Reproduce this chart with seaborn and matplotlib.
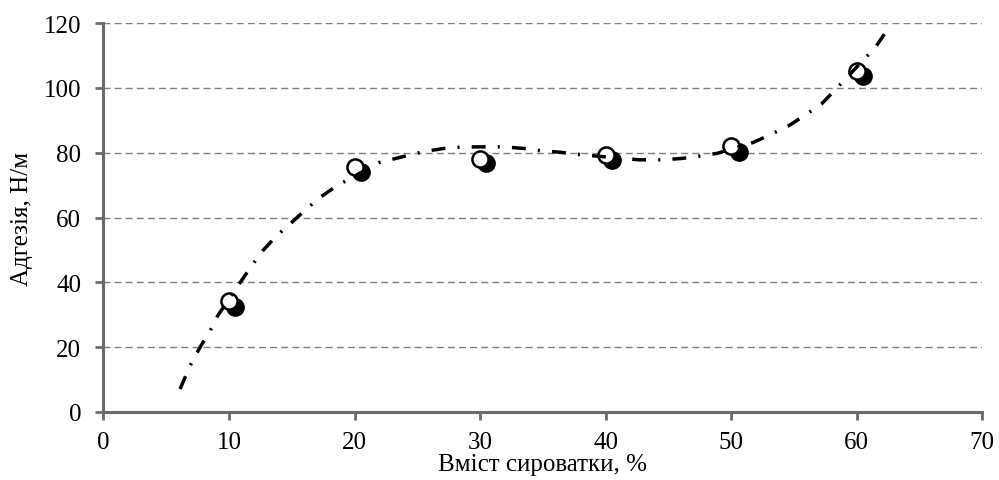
import matplotlib
matplotlib.use("Agg")
import matplotlib.pyplot as plt
import seaborn as sns
import pandas as pd

# --- data ---
open_x = [10, 20, 30, 40, 50, 60]
open_y = [34.3, 75.5, 78.0, 79.3, 82.0, 105.3]
filled_x = [10.5, 20.5, 30.5, 40.5, 50.6, 60.5]
filled_y = [32.5, 74.0, 76.8, 77.7, 80.3, 103.7]

curve_x = [6.1, 6.9, 7.7, 8.5, 9.1, 10.9, 11.8, 12.7, 13.8, 15.0, 16.1, 17.25, 18.6,
           22.0, 24.2, 25.6, 27.1, 28.7, 30.3, 31.9, 33.5, 34.9, 36.5, 38.0, 41.2,
           42.7, 44.5, 46.0, 47.4, 48.9, 51.8, 53.2, 54.6, 55.9, 57.2, 58.3, 60.5,
           61.5, 62.4, 62.7]
curve_y = [7.1, 14.3, 20.0, 25.1, 29.7, 40.0, 45.1, 49.8, 54.4, 58.5, 62.4, 66.2, 69.8,
           77.0, 79.1, 80.4, 81.3, 81.8, 81.8, 81.8, 81.3, 80.6, 80.1, 79.4, 78.3,
           77.8, 77.8, 78.2, 78.9, 79.8, 83.2, 85.7, 88.3, 91.6, 95.0, 99.4, 108.4,
           112.5, 117.6, 119.4]

x_ticks = [0, 10, 20, 30, 40, 50, 60, 70]
y_ticks = [0, 20, 40, 60, 80, 100, 120]
x_label = "Вміст сироватки, %"
y_label = "Адгезія, Н/м"

sns.set_theme(style="white")
plt.rcParams["font.family"] = ["Liberation Serif", "DejaVu Serif"]

fig = plt.figure(figsize=(9.99, 4.81), dpi=100)
ax = fig.add_axes([0.1036, 0.1414, 0.8794, 0.8086])

df_open = pd.DataFrame({"x": open_x, "y": open_y})
df_fill = pd.DataFrame({"x": filled_x, "y": filled_y})
df_curve = pd.DataFrame({"x": curve_x, "y": curve_y})

sns.scatterplot(data=df_fill, x="x", y="y", ax=ax, s=150, color="black",
                edgecolor="black", linewidth=1.2, zorder=3)
sns.scatterplot(data=df_open, x="x", y="y", ax=ax, s=135, color="white",
                edgecolor="black", linewidth=1.8, zorder=4)
sns.lineplot(data=df_curve, x="x", y="y", ax=ax, sort=False, estimator=None,
             color="black", linewidth=2.5, zorder=5,
             linestyle=(0, (4.0, 3.5, 0.6, 3.5)))

ax.set_xlim(0, 70)
ax.set_ylim(0, 120)
ax.set_xticks(x_ticks)
ax.set_yticks(y_ticks)
ax.set_xticklabels([str(v) for v in x_ticks])
ax.set_yticklabels([str(v) for v in y_ticks])

ax.yaxis.grid(True, color="#7f7f7f", linestyle=(0, (5, 3)), linewidth=1.0)
ax.xaxis.grid(False)
ax.set_axisbelow(True)

for s in ["top", "right"]:
    ax.spines[s].set_visible(False)
for s in ["left", "bottom"]:
    ax.spines[s].set_color("#6b6b6b")
    ax.spines[s].set_linewidth(2.2)

ax.tick_params(axis="both", which="major", direction="out", length=6, width=2,
               color="#6b6b6b", labelsize=18, labelcolor="black",
               bottom=True, left=True)
ax.tick_params(axis="x", pad=8)
ax.tick_params(axis="y", pad=10)

ax.set_xlabel(x_label, fontsize=18, color="black", labelpad=0)
ax.set_ylabel(y_label, fontsize=18, color="black", labelpad=8)

fig.savefig("out.png", dpi=100)
